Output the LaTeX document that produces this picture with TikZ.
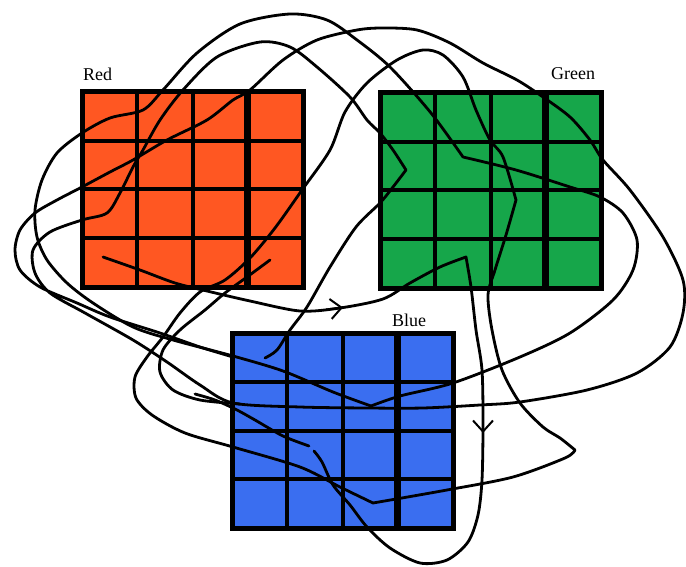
\documentclass[tikz,border=0pt]{standalone}
\usepackage{fontspec}
\setmainfont{Liberation Serif}
\usepackage{tikz}
\usetikzlibrary{arrows.meta}

\definecolor{redcell}{RGB}{255,87,34}
\definecolor{greencell}{RGB}{22,166,74}
\definecolor{bluecell}{RGB}{58,110,240}

\begin{document}
\begin{tikzpicture}[
    x=1pt, y=-1pt,
    gridline/.style={draw=black, line width=4pt},
    gridframe/.style={draw=black, line width=5pt},
    strand/.style={draw=black, line width=2.8pt, line join=round, line cap=round},
    barb/.style={draw=black, line width=2pt, -{Straight Barb[length=11pt, width=20pt]}},
    lbl/.style={anchor=base west, inner sep=0pt, font=\fontsize{18}{18}\selectfont}
]
\useasboundingbox (0,0) rectangle (686,567);

% ============ THREE GRIDS ============
\foreach \gx/\gy/\gc in {82/92/redcell, 380/93/greencell, 232/333/bluecell} {
    \fill[\gc] (\gx,\gy) rectangle ++(221,195);
    \foreach \i in {1,2}
        \draw[gridline] (\gx+\i*55.25,\gy) -- ++(0,195);
    \draw[gridline, line width=7pt] (\gx+165.75,\gy) -- ++(0,195);
    \foreach \j in {1,2,3}
        \draw[gridline] (\gx,\gy+\j*48.75) -- ++(221,0);
    \draw[gridframe] (\gx,\gy) rectangle ++(221,195);
}

% ============ LABELS ============
\node[lbl] (redname) at (83,81) {Red};
\node[lbl] (greenname) at (551,80) {Green};
\node[lbl] (bluename) at (392,326) {Blue};

% ============ STRANDS ============
% big loop: red -> top -> green Z -> right -> blue V
\draw[strand] plot[smooth] coordinates {(463,157) (431,113) (390,67) (357,40)
    (327,20) (290,14) (240,24) (197,53) (163,90) (143,110) (110,118) (82,133)
    (57,153) (42,180) (35,210) (37,237) (47,260) (67,283) (93,303) (133,327)
    (173,340) (233,356) (283,371) (333,392) (371,406)}
  -- plot[smooth] coordinates {(371,406) (400,396) (453,383) (520,357)
    (570,333) (613,300) (633,270) (637,240) (623,213) (600,197) (570,187)
    (516,170) (463,157)};

% second loop: corner above blue -> green < -> top -> left -> right loop -> top -> left
\draw[strand] plot[smooth] coordinates {(265,358) (277,350) (290,330) (307,307)
    (330,267) (356,227) (380,203) (393,187) (406,170)}
  -- plot[smooth] coordinates {(406,170) (393,150) (380,133) (367,120) (350,97)
    (317,67) (290,47) (260,42) (217,57) (183,90) (160,120) (143,150) (133,167)
    (120,193) (107,213) (82,220) (50,232) (33,250) (35,273) (50,293) (85,313)
    (133,340) (167,362) (200,385) (233,403) (300,407) (367,408) (423,408)
    (480,405) (520,402) (587,390) (637,373) (670,347) (683,313) (683,280)
    (663,237) (630,190) (603,160) (590,140) (570,117) (543,97) (517,80)
    (483,63) (450,43) (417,30) (383,28) (357,30) (317,40) (283,60) (250,90)
    (233,100) (207,120) (167,140) (133,160) (110,172) (82,187) (57,200)
    (35,213) (20,230) (15,250) (20,270) (40,287) (77,303) (110,317) (160,333)
    (200,347) (233,357)};

% green > -> top -> red -> lower left loop -> blue -> triangle
\draw[strand] plot[smooth] coordinates {(516,200) (503,157) (490,140) (476,110)
    (463,77) (443,55) (423,50) (397,60) (367,83) (345,112) (330,150) (302,190)
    (275,228) (250,258) (225,280) (200,292) (180,313) (163,337) (147,357)
    (135,377) (136,398) (152,415) (185,433) (233,447) (300,467) (340,487)
    (373,503)}
  -- plot[smooth] coordinates {(373,503) (447,490) (513,477) (565,458) (575,450)}
  -- plot[smooth] coordinates {(575,450) (560,438) (543,427) (520,403)
    (502,370) (492,330) (488,295) (495,270) (506,235) (516,200)};

% short stroke from red into small loop
\draw[strand] plot[smooth] coordinates {(270,260) (247,277) (225,293) (205,310)
    (180,330) (163,350) (160,372) (173,390) (200,400) (240,404)};

% red -> under red -> green -> down -> bottom loop -> blue
\draw[strand] plot[smooth] coordinates {(103,257) (140,270) (175,283) (207,291)
    (250,301) (300,311) (340,308) (383,299) (410,283) (440,267) (466,257)}
  -- plot[smooth] coordinates {(466,257) (471,287) (476,330) (482,370)
    (483,425) (482,480) (478,515) (468,542) (447,560) (420,563) (390,548)
    (367,527) (350,505) (333,485) (322,462) (314,451)};
\draw[strand] plot[smooth] coordinates {(309,446) (283,436) (255,420)
    (237,410) (215,400) (195,394)};

% ============ ARROW TIPS ============
\draw[barb] (326,309.5) -- (343,307.5);
\draw[barb] (483,412) -- (483,433);

\end{tikzpicture}
\end{document}
